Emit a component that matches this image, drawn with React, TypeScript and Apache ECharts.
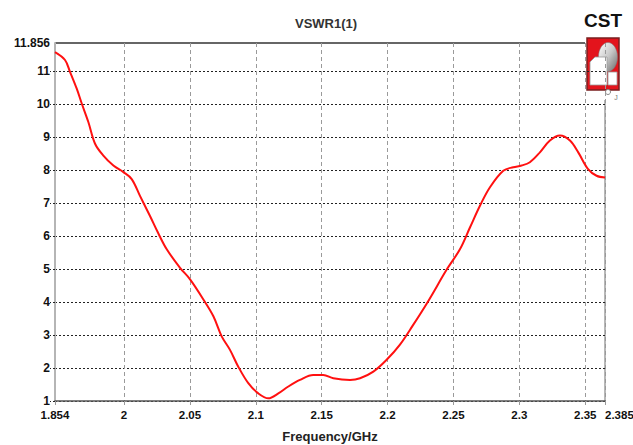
import React, { useEffect, useRef } from "react";
import * as echarts from "echarts";

// Axis extent (display scale) and tick labels
const X_MIN = 1.9476;
const X_MAX = 2.365;
const xTickValues = [X_MIN, 2, 2.05, 2.1, 2.15, 2.2, 2.25, 2.3, 2.35, X_MAX];
const xTickLabels = ["1.854", "2", "2.05", "2.1", "2.15", "2.2", "2.25", "2.3", "2.35", "2.385"];
const Y_MIN = 1;
const Y_MAX = 11.856;
const yGridValues = [1, 2, 3, 4, 5, 6, 7, 8, 9, 10, 11];
const yLabelValues = [1, 2, 3, 4, 5, 6, 7, 8, 9, 10, 11, Y_MAX];

// VSWR curve
const freq = [
  1.9476, 1.9552, 1.959, 1.9641, 1.9679, 1.9729, 1.978, 1.9843, 1.9919, 1.9995,
  2.0058, 2.0121, 2.0197, 2.0258, 2.0324, 2.0425, 2.0501, 2.0602, 2.0678, 2.0741,
  2.0804, 2.0867, 2.0943, 2.1019, 2.1095, 2.1171, 2.1247, 2.1335, 2.1436, 2.1512,
  2.1588, 2.1715, 2.1791, 2.1892, 2.1993, 2.2094, 2.2193, 2.2307, 2.2451, 2.2549,
  2.2625, 2.2701, 2.2777, 2.2878, 2.2954, 2.3017, 2.308, 2.3156, 2.3232, 2.3308,
  2.3384, 2.3447, 2.352, 2.3586, 2.365,
];
const vswr = [
  11.58, 11.34, 10.98, 10.47, 10.02, 9.46, 8.8, 8.44, 8.14, 7.94,
  7.73, 7.22, 6.61, 6.1, 5.6, 5.04, 4.69, 4.08, 3.57, 2.96,
  2.55, 2.04, 1.54, 1.23, 1.08, 1.23, 1.44, 1.64, 1.79, 1.79,
  1.69, 1.64, 1.69, 1.89, 2.25, 2.71, 3.3, 4.02, 5.0, 5.6,
  6.26, 6.92, 7.48, 7.98, 8.09, 8.14, 8.24, 8.54, 8.9, 9.05,
  8.9, 8.54, 8.04, 7.83, 7.78,
];

const FONT = "'Liberation Sans', Arial, sans-serif";

export default function App() {
  const ref = useRef<HTMLDivElement>(null);
  useEffect(() => {
    if (!ref.current) return;
    const chart = echarts.init(ref.current, null, { renderer: "svg" });
    const labelFor = (v: number) => {
      for (let i = 0; i < xTickValues.length; i++) {
        if (Math.abs(xTickValues[i] - v) < 1e-6) return xTickLabels[i];
      }
      return "";
    };
    chart.setOption({
      animation: false,
      backgroundColor: "#ffffff",
      title: {
        text: "VSWR1(1)",
        left: 290,
        top: 12,
        textStyle: { fontFamily: FONT, fontSize: 13, fontWeight: "bold", color: "#333" },
      },
      grid: { left: 55, right: 28, top: 43, bottom: 44, outerBoundsMode: "none" },
      xAxis: {
        type: "value",
        min: X_MIN,
        max: X_MAX,
        name: "Frequency/GHz",
        nameLocation: "middle",
        nameGap: 29,
        nameTextStyle: { fontFamily: FONT, fontSize: 13, fontWeight: "bold", color: "#222" },
        axisLine: { show: true, onZero: false, lineStyle: { color: "#555", width: 1.5 } },
        axisTick: {
          show: true,
          customValues: xTickValues,
          length: 4,
          lineStyle: { color: "#999", type: [4, 3] },
        },
        axisLabel: {
          customValues: xTickValues,
          formatter: (v: number) => labelFor(v),
          alignMaxLabel: "left",
          fontFamily: FONT,
          fontSize: 11.5,
          fontWeight: "bold",
          color: "#111",
          margin: 8,
        },
        splitLine: { show: true, lineStyle: { color: "#9a9a9a", type: [4, 3], width: 1 } },
      },
      yAxis: {
        type: "value",
        min: Y_MIN,
        max: Y_MAX,
        interval: 1,
        axisLine: { show: true, onZero: false, lineStyle: { color: "#b5b5b5", width: 2 } },
        axisTick: {
          show: true,
          customValues: yGridValues,
          length: 5,
          lineStyle: { color: "#222", type: [2, 2] },
        },
        axisLabel: {
          customValues: yLabelValues,
          formatter: (v: number) => (Math.abs(v - Y_MAX) < 1e-6 ? "11.856" : String(v)),
          fontFamily: FONT,
          fontSize: 12,
          fontWeight: "bold",
          color: "#111",
          margin: 5,
        },
        splitLine: { show: true, lineStyle: { color: "#222", type: [2, 2], width: 1 } },
      },
      series: [
        {
          type: "line",
          data: freq.map((f, i) => [f, vswr[i]]),
          smooth: 0.35,
          showSymbol: false,
          lineStyle: { color: "#ff1010", width: 2 },
          z: 5,
        },
      ],
      graphic: [
        { type: "line", shape: { x1: 55, y1: 43, x2: 585, y2: 43 }, style: { stroke: "#333", lineWidth: 1.5 } },
        { type: "line", shape: { x1: 605, y1: 100, x2: 605, y2: 401 }, style: { stroke: "#888", lineWidth: 1.2 } },
        {
          type: "text",
          x: 603,
          y: 20,
          style: {
            text: "CST",
            font: "bold 19px 'Liberation Sans', Arial, sans-serif",
            fill: "#111",
            textAlign: "center",
            textVerticalAlign: "middle",
          },
        },
        {
          type: "rect",
          shape: { x: 587, y: 38, width: 32, height: 52 },
          style: { fill: "#e3141c", stroke: "#7a1f1f", lineWidth: 1.5 },
        },
        {
          type: "ellipse",
          shape: { cx: 608, cy: 57, rx: 9.5, ry: 14.5 },
          style: {
            fill: new echarts.graphic.LinearGradient(0, 0, 1, 1, [
              { offset: 0, color: "#ffffff" },
              { offset: 0.5, color: "#c8c8c8" },
              { offset: 1, color: "#6a6a6a" },
            ]),
            stroke: "#777",
            lineWidth: 0.5,
          },
        },
        {
          type: "polygon",
          shape: { points: [[590, 62], [595, 57], [607, 57], [607, 85], [590, 85]] },
          style: { fill: "#ffffff", stroke: "#999", lineWidth: 0.8 },
        },
        {
          type: "rect",
          shape: { x: 608, y: 72, width: 9, height: 13 },
          style: { fill: "#ffffff", stroke: "#999", lineWidth: 0.8 },
        },
        {
          type: "circle",
          shape: { cx: 608, cy: 92, r: 2.5 },
          style: { fill: "#ffffff", stroke: "#888", lineWidth: 1 },
        },
        {
          type: "text",
          x: 616,
          y: 97,
          style: { text: "J", font: "7px sans-serif", fill: "#777", textAlign: "center", textVerticalAlign: "middle" },
        },
      ],
    });
    return () => chart.dispose();
  }, []);
  return <div ref={ref} style={{ position: "absolute", left: 0, top: 0, width: 633, height: 445 }} />;
}
